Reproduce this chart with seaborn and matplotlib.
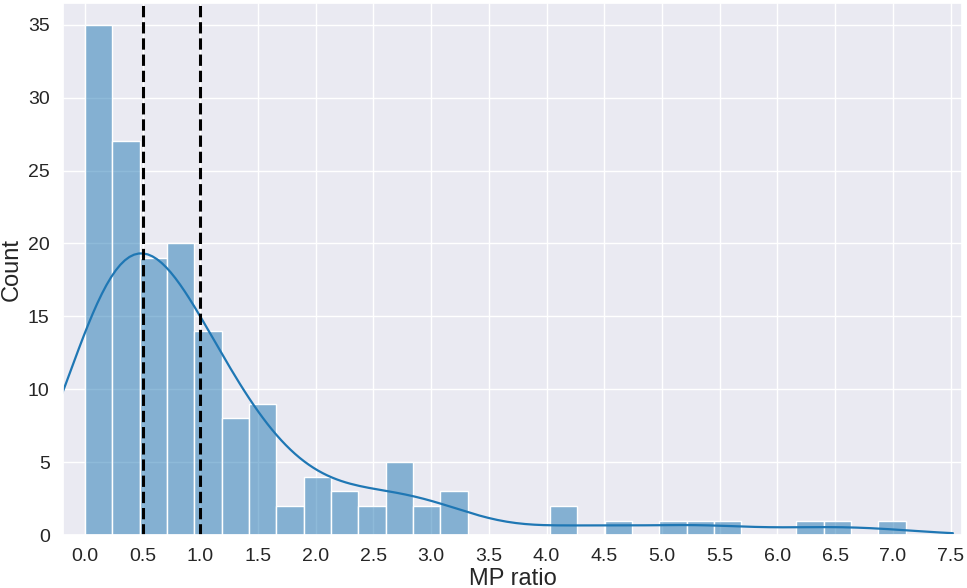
import matplotlib

matplotlib.use("Agg")
import matplotlib.pyplot as plt
import numpy as np
import seaborn as sns

# bin counts (30 bins over 0 .. 7.11)
bin_counts = [35, 27, 19, 20, 14, 8, 9, 2, 4, 3, 2, 5, 2, 3, 0,
              0, 0, 2, 0, 1, 0, 1, 1, 1, 0, 0, 1, 1, 0, 1]
x_max = 7.11
n_bins = len(bin_counts)
edges = np.linspace(0, x_max, n_bins + 1)
bin_centers = (edges[:-1] + edges[1:]) / 2
thresholds = [0.5, 1.0]
xticks = np.arange(0, 7.51, 0.5)

sns.set_theme(style="darkgrid")
plt.rcParams["font.family"] = ["Liberation Sans", "DejaVu Sans"]
fig, ax = plt.subplots(figsize=(9.67, 5.88), dpi=100)
sns.histplot(x=bin_centers, weights=bin_counts, bins=n_bins, binrange=(0, x_max),
             kde=True, kde_kws={"bw_adjust": 0.5, "cut": 1}, ax=ax, color="#1f77b4", alpha=0.5,
             edgecolor="white", line_kws={"linewidth": 1.6})
for t in thresholds:
    ax.axvline(t, color="black", linestyle="--", linewidth=2.2)
ax.set_xticks(xticks)
ax.set_xticklabels([f"{v:.1f}" for v in xticks], fontsize=14)
ax.tick_params(axis="y", labelsize=14)
ax.set_xlim(-0.19, 7.6)
ax.set_ylim(0, 36.5)
ax.set_xlabel("MP ratio", fontsize=17, labelpad=2)
ax.set_ylabel("Count", fontsize=17)
plt.subplots_adjust(left=0.065, right=0.995, top=0.995, bottom=0.09)
plt.savefig("out.png", dpi=100)
